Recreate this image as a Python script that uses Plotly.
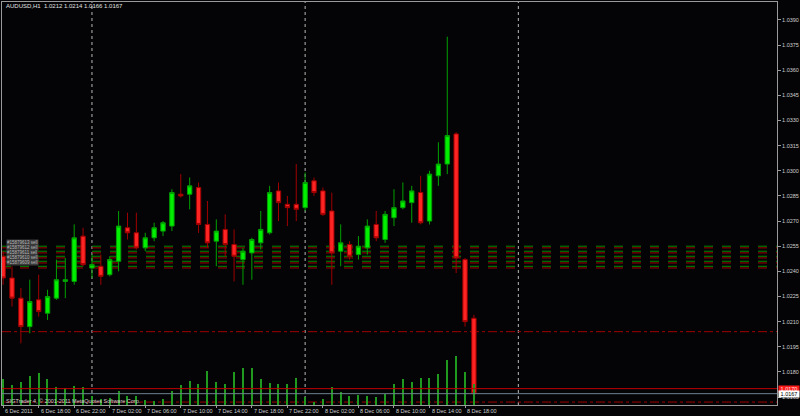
import plotly.graph_objects as go

# AUDUSD H1 bars, 6 Dec 2011 14:00 .. 8 Dec 2011 19:00 (bar index 0..53)
bar_idx = list(range(54))
opens = [1.0249, 1.0236, 1.0224, 1.0207, 1.0223, 1.0215, 1.0224, 1.0234, 1.0234, 1.0261,
         1.0242, 1.0243, 1.0238, 1.0246, 1.0266, 1.0263, 1.0254, 1.0260, 1.0264, 1.0267,
         1.0286, 1.0286, 1.0290, 1.0268, 1.0258, 1.0265, 1.0256, 1.0247, 1.0251, 1.0257,
         1.0263, 1.0288, 1.0280, 1.0280, 1.0278, 1.0294, 1.0288, 1.0276, 1.0252, 1.0256,
         1.0250, 1.0254, 1.0268, 1.0259, 1.0272, 1.0278, 1.0281, 1.0287, 1.0270, 1.0297,
         1.0304, 1.0322, 1.0247, 1.0212]
highs = [1.0252, 1.0243, 1.0230, 1.0235, 1.0238, 1.0229, 1.0247, 1.0248, 1.0268, 1.0266,
         1.0250, 1.0250, 1.0249, 1.0276, 1.0275, 1.0275, 1.0263, 1.0269, 1.0270, 1.0289,
         1.0298, 1.0296, 1.0293, 1.0282, 1.0271, 1.0274, 1.0265, 1.0254, 1.0260, 1.0276,
         1.0291, 1.0293, 1.0285, 1.0304, 1.0299, 1.0296, 1.0290, 1.0287, 1.0268, 1.0258,
         1.0261, 1.0271, 1.0276, 1.0276, 1.0289, 1.0293, 1.0291, 1.0297, 1.0300, 1.0317,
         1.0380, 1.0323, 1.0248, 1.0214]
lows = [1.0232, 1.0219, 1.0197, 1.0203, 1.0213, 1.0211, 1.0223, 1.0224, 1.0232, 1.0243,
        1.0236, 1.0232, 1.0237, 1.0240, 1.0259, 1.0253, 1.0252, 1.0258, 1.0261, 1.0264,
        1.0284, 1.0277, 1.0263, 1.0254, 1.0243, 1.0249, 1.0234, 1.0232, 1.0235, 1.0253,
        1.0262, 1.0270, 1.0267, 1.0270, 1.0276, 1.0285, 1.0273, 1.0232, 1.0243, 1.0247,
        1.0247, 1.0250, 1.0258, 1.0257, 1.0267, 1.0277, 1.0269, 1.0268, 1.0268, 1.0291,
        1.0298, 1.0239, 1.0207, 1.0166]
closes = [1.0236, 1.0224, 1.0207, 1.0222, 1.0216, 1.0225, 1.0235, 1.0235, 1.0260, 1.0244,
          1.0244, 1.0237, 1.0247, 1.0267, 1.0263, 1.0254, 1.0260, 1.0266, 1.0269, 1.0287,
          1.0285, 1.0291, 1.0268, 1.0257, 1.0264, 1.0256, 1.0249, 1.0252, 1.0259, 1.0265,
          1.0287, 1.0281, 1.0278, 1.0277, 1.0293, 1.0287, 1.0274, 1.0251, 1.0257, 1.0249,
          1.0255, 1.0267, 1.0260, 1.0274, 1.0278, 1.0282, 1.0288, 1.0269, 1.0298, 1.0304,
          1.0321, 1.0248, 1.0210, 1.0167]
volumes = [514, 400, 466, 586, 646, 514, 366, 346, 386, 366,
           180, 120, 140, 286, 186, 180, 100, 80, 120, 280,
           400, 480, 414, 686, 466, 414, 666, 734, 734, 520,
           434, 426, 426, 534, 160, 60, 120, 354, 254, 180,
           200, 180, 166, 220, 414, 514, 460, 534, 546, 626,
           900, 980, 654, 420]

# time axis labels (bar index -> text)
time_tick_idx = [0, 4, 8, 12, 16, 20, 24, 28, 32, 36, 40, 44, 48, 52]
time_tick_text = ["6 Dec 2011", "6 Dec 18:00", "6 Dec 22:00", "7 Dec 02:00", "7 Dec 06:00",
                  "7 Dec 10:00", "7 Dec 14:00", "7 Dec 18:00", "7 Dec 22:00", "8 Dec 02:00",
                  "8 Dec 06:00", "8 Dec 10:00", "8 Dec 14:00", "8 Dec 18:00"]
day_start_idx = [10, 34, 58]

# price scale labels
price_ticks = [1.0390, 1.0375, 1.0360, 1.0345, 1.0330, 1.0315, 1.0300, 1.0285, 1.0270,
               1.0255, 1.0240, 1.0225, 1.0210, 1.0195, 1.0180, 1.0165]
price_tick_text = ["%.4f" % p for p in price_ticks]

# trade levels
order_open_levels = [1.0255, 1.0252, 1.0249, 1.0246, 1.0243]
order_stop_levels = [1.0254, 1.0251, 1.0248, 1.0245, 1.0242]
order_tickets = ["#15879613 sell", "#15879612 sell", "#15879611 sell", "#15879610 sell", "#15879609 sell"]
target_levels = [1.0204, 1.0162]
ask_price = 1.0170
bid_price = 1.0167

symbol_title = "AUDUSD,H1  1.0212 1.0214 1.0166 1.0167"
copyright_text = "SIGTrader 4, \u00a9 2001-2011 MetaQuotes Software Corp."

BG = "#040406"
FRAME = "#9a9a9a"
TXT = "#cfcfcf"
FONT = "Liberation Sans"

fig = go.Figure()

fig.add_trace(go.Bar(
    x=bar_idx, y=volumes, yaxis="y2", width=0.13,
    marker=dict(color="#1f9a1f", line=dict(width=0)),
    hoverinfo="skip", showlegend=False,
))

fig.add_trace(go.Candlestick(
    x=bar_idx, open=opens, high=highs, low=lows, close=closes,
    increasing=dict(line=dict(color="#00a000", width=1), fillcolor="#00f000"),
    decreasing=dict(line=dict(color="#a00000", width=1), fillcolor="#ff2424"),
    whiskerwidth=0, showlegend=False,
))

shapes = []
for d in day_start_idx:
    shapes.append(dict(type="line", xref="x", yref="paper", x0=d, x1=d, y0=0, y1=1,
                       line=dict(color="#b8b8b8", width=1, dash="dot"), layer="below"))
for lv in order_open_levels:
    shapes.append(dict(type="line", xref="paper", yref="y", x0=0, x1=1, y0=lv, y1=lv,
                       line=dict(color="#008a00", width=1, dash="dash"), layer="below"))
for lv in order_stop_levels:
    shapes.append(dict(type="line", xref="paper", yref="y", x0=0, x1=1, y0=lv, y1=lv,
                       line=dict(color="#a00000", width=1, dash="dash"), layer="below"))
for lv in target_levels:
    shapes.append(dict(type="line", xref="paper", yref="y", x0=0, x1=1, y0=lv, y1=lv,
                       line=dict(color="#a00000", width=1, dash="dashdot"), layer="below"))
shapes.append(dict(type="line", xref="paper", yref="y", x0=0, x1=1, y0=ask_price, y1=ask_price,
                   line=dict(color="#c00000", width=1), layer="above"))
shapes.append(dict(type="line", xref="paper", yref="y", x0=0, x1=1, y0=bid_price, y1=bid_price,
                   line=dict(color="#6f8090", width=1), layer="above"))

annotations = []
for i, t in zip(time_tick_idx, time_tick_text):
    annotations.append(dict(x=i, y=-0.015, xref="x", yref="paper", text=t, showarrow=False,
                            xanchor="left", yanchor="middle", xshift=0,
                            font=dict(family=FONT, size=5.5, color=TXT)))
annotations.append(dict(x=0.003, y=0.989, xref="paper", yref="paper", text=symbol_title,
                        showarrow=False, xanchor="left", yanchor="middle",
                        font=dict(family=FONT, size=6, color="#e0e0e0")))
annotations.append(dict(x=0.003, y=0.01, xref="paper", yref="paper", text=copyright_text,
                        showarrow=False, xanchor="left", yanchor="middle",
                        font=dict(family=FONT, size=5.5, color=TXT)))
for lv, t in zip(order_open_levels, order_tickets):
    annotations.append(dict(x=0.005, y=lv + 0.0002, xref="paper", yref="y", text=t,
                            showarrow=False, xanchor="left", yanchor="middle",
                            bgcolor="#3a3a3a", borderpad=0,
                            font=dict(family=FONT, size=4.5, color="#b8b8b8")))
annotations.append(dict(x=1, y=ask_price, xref="paper", yref="y", text="%.4f" % ask_price,
                        showarrow=False, xanchor="left", yanchor="middle", xshift=1,
                        bgcolor="#ff1a1a", borderpad=0, width=20,
                        font=dict(family=FONT, size=5.5, color="#ffe8e8")))
annotations.append(dict(x=1, y=bid_price, xref="paper", yref="y", text="%.4f" % bid_price,
                        showarrow=False, xanchor="left", yanchor="middle", xshift=1,
                        bgcolor="#ffffff", borderpad=0, width=20,
                        font=dict(family=FONT, size=5.5, color="#000000")))

fig.update_layout(
    width=800, height=416,
    margin=dict(l=1, r=21, t=1, b=11, pad=0),
    paper_bgcolor=BG, plot_bgcolor=BG,
    showlegend=False, bargap=0,
    font=dict(family=FONT, size=6, color=TXT),
    xaxis=dict(range=[-0.127, 87.12], showgrid=False, zeroline=False,
               showline=True, linecolor=FRAME, linewidth=1, mirror=True,
               tickvals=time_tick_idx, ticks="outside", ticklen=2, tickcolor=FRAME,
               showticklabels=False, rangeslider=dict(visible=False)),
    yaxis=dict(range=[1.016024, 1.040071], side="right", showgrid=False, zeroline=False,
               showline=True, linecolor=FRAME, linewidth=1, mirror=True,
               tickvals=price_ticks, ticktext=price_tick_text, ticks="outside",
               ticklen=3, tickcolor=FRAME,
               tickfont=dict(family=FONT, size=5.5, color=TXT)),
    yaxis2=dict(range=[0, 8080], overlaying="y", visible=False),
    shapes=shapes, annotations=annotations,
)

fig.write_html("out.html")
